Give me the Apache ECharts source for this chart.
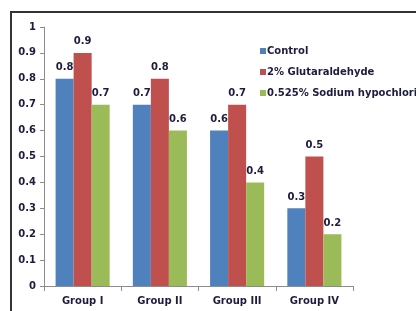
<!DOCTYPE html>
<html>
<head>
<meta charset="utf-8">
<script src="https://cdn.jsdelivr.net/npm/echarts@6/dist/echarts.min.js"></script>
<style>
html,body{margin:0;padding:0;background:#fff;}
#c{width:416px;height:311px;}
</style>
</head>
<body>
<div id="c"></div>
<script>
const categories = ['Group I', 'Group II', 'Group III', 'Group IV'];
const seriesNames = ['Control', '2% Glutaraldehyde', '0.525% Sodium hypochlorite'];
const controlValues = [0.8, 0.7, 0.6, 0.3];
const glutaraldehydeValues = [0.9, 0.8, 0.7, 0.5];
const hypochloriteValues = [0.7, 0.6, 0.4, 0.2];
const yTicks = [0, 0.1, 0.2, 0.3, 0.4, 0.5, 0.6, 0.7, 0.8, 0.9, 1];

const colors = ['#4F81BD', '#C0504D', '#9BBB59'];
const textColor = '#1c1c3c';
const fontFamily = 'DejaVu Sans, sans-serif';

const chart = echarts.init(document.getElementById('c'));
const valueLists = [controlValues, glutaraldehydeValues, hypochloriteValues];

chart.setOption({
  animation: false,
  backgroundColor: '#fff',
  color: colors,
  grid: { left: 44, right: 63, top: 27, bottom: 25, containLabel: false },
  legend: {
    orient: 'vertical',
    left: 255,
    top: 41,
    itemWidth: 6,
    itemHeight: 6,
    itemGap: 11,
    icon: 'rect',
    textStyle: { fontSize: 10, fontWeight: 'bold', color: textColor, fontFamily: fontFamily, padding: [0, 0, 0, -4] },
    data: seriesNames
  },
  xAxis: {
    type: 'category',
    data: categories,
    axisLine: { lineStyle: { color: '#8c8c8c', width: 1 } },
    axisTick: { show: true, length: 5, lineStyle: { color: '#8c8c8c' } },
    axisLabel: { fontSize: 10, fontWeight: 'bold', color: textColor, fontFamily: fontFamily, margin: 10 }
  },
  yAxis: {
    type: 'value',
    min: yTicks[0],
    max: yTicks[yTicks.length - 1],
    interval: 0.1,
    splitLine: { show: false },
    axisLine: { show: true, lineStyle: { color: '#8c8c8c', width: 1 } },
    axisTick: { show: true, length: 4, lineStyle: { color: '#8c8c8c' } },
    axisLabel: {
      fontSize: 10, fontWeight: 'bold', color: textColor, fontFamily: fontFamily, margin: 8,
      formatter: v => String(Math.round(v * 10) / 10)
    }
  },
  series: seriesNames.map((name, i) => ({
    name: name,
    type: 'bar',
    data: valueLists[i],
    barGap: '0%',
    barCategoryGap: '30%',
    label: {
      show: true,
      position: 'top',
      distance: 6,
      fontSize: 10,
      fontWeight: 'bold',
      color: textColor,
      fontFamily: fontFamily
    }
  })),
  graphic: [{
    type: 'rect',
    shape: { x: 11, y: 12, width: 600, height: 500 },
    style: { fill: 'none', stroke: '#333', lineWidth: 2 },
    silent: true
  }]
});
</script>
</body>
</html>
